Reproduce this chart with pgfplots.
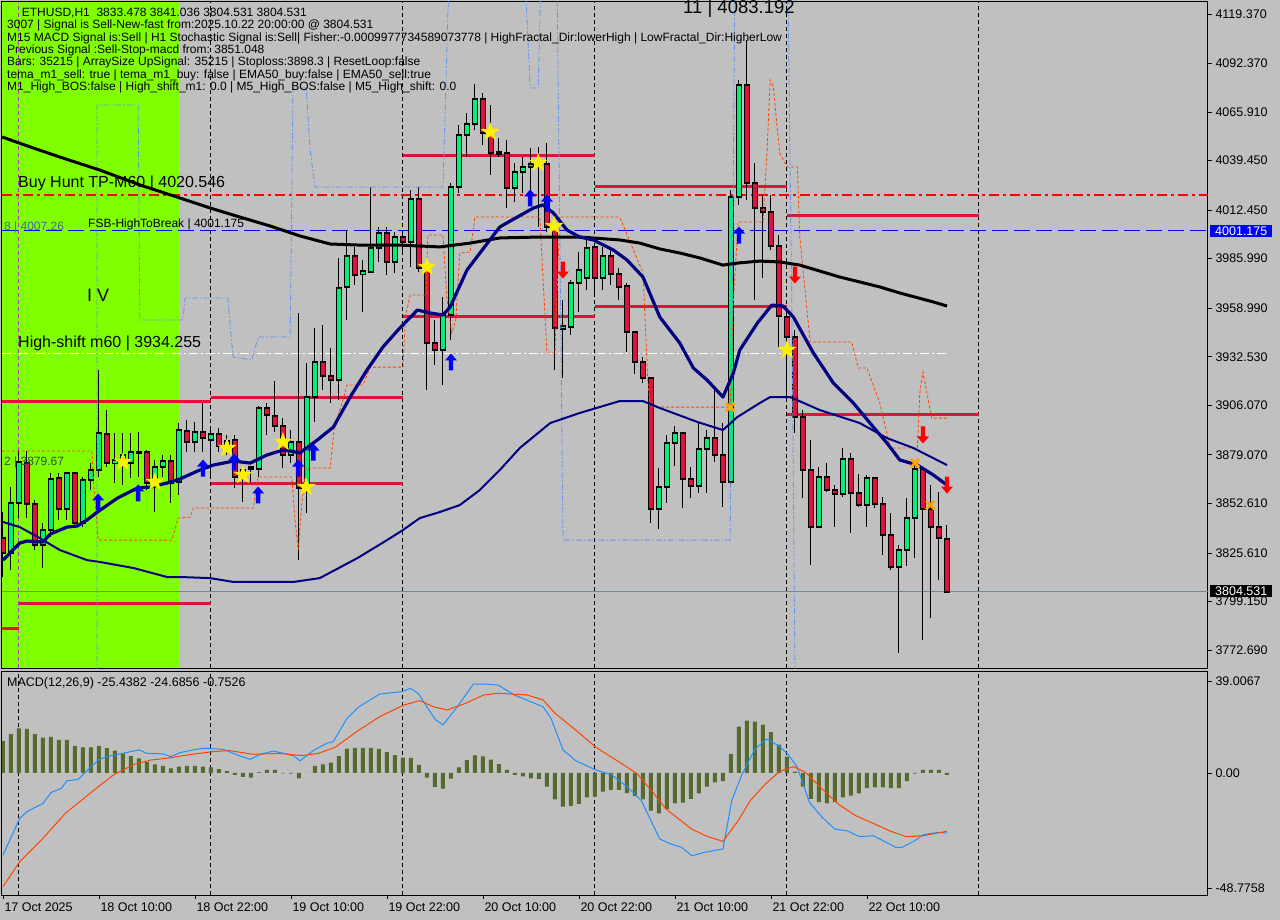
\documentclass[border=0pt]{standalone}
\usepackage{pgfplots}
\pgfplotsset{compat=1.18}
\usepackage{pgfplotstable}
\usepackage{fontspec}
\setmainfont{Liberation Sans}

\newcommand{\fs}[1]{\fontsize{#1pt}{#1pt}\selectfont}

\definecolor{chartbg}{RGB}{192,192,192}
\definecolor{zone}{RGB}{128,255,0}
\definecolor{bullc}{RGB}{0,240,120}
\definecolor{crim}{RGB}{220,20,60}
\definecolor{navyma}{RGB}{0,0,128}
\definecolor{histc}{RGB}{85,107,47}
\definecolor{macdc}{RGB}{30,144,255}
\definecolor{sigc}{RGB}{255,69,0}
\definecolor{envo}{RGB}{255,69,0}
\definecolor{envb}{RGB}{100,149,237}
\definecolor{sepc}{RGB}{170,60,190}
\definecolor{bidc}{RGB}{119,136,153}
\definecolor{starc}{RGB}{255,240,0}
\definecolor{xc}{RGB}{255,165,0}
\definecolor{tpred}{RGB}{255,0,0}

% arrow and star marks
\pgfdeclareplotmark{uparr}{%
  \pgfpathmoveto{\pgfqpoint{0pt}{8.5pt}}%
  \pgfpathlineto{\pgfqpoint{6pt}{1.5pt}}%
  \pgfpathlineto{\pgfqpoint{2.2pt}{1.5pt}}%
  \pgfpathlineto{\pgfqpoint{2.2pt}{-8.5pt}}%
  \pgfpathlineto{\pgfqpoint{-2.2pt}{-8.5pt}}%
  \pgfpathlineto{\pgfqpoint{-2.2pt}{1.5pt}}%
  \pgfpathlineto{\pgfqpoint{-6pt}{1.5pt}}%
  \pgfpathclose\pgfusepathqfill}
\pgfdeclareplotmark{dnarr}{%
  \pgfpathmoveto{\pgfqpoint{0pt}{-8.5pt}}%
  \pgfpathlineto{\pgfqpoint{6pt}{-1.5pt}}%
  \pgfpathlineto{\pgfqpoint{2.2pt}{-1.5pt}}%
  \pgfpathlineto{\pgfqpoint{2.2pt}{8.5pt}}%
  \pgfpathlineto{\pgfqpoint{-2.2pt}{8.5pt}}%
  \pgfpathlineto{\pgfqpoint{-2.2pt}{-1.5pt}}%
  \pgfpathlineto{\pgfqpoint{-6pt}{-1.5pt}}%
  \pgfpathclose\pgfusepathqfill}
\pgfdeclareplotmark{fstar}{%
  \pgfpathmoveto{\pgfpointpolar{90}{10pt}}%
  \pgfpathlineto{\pgfpointpolar{126}{4pt}}%
  \pgfpathlineto{\pgfpointpolar{162}{10pt}}%
  \pgfpathlineto{\pgfpointpolar{198}{4pt}}%
  \pgfpathlineto{\pgfpointpolar{234}{10pt}}%
  \pgfpathlineto{\pgfpointpolar{270}{4pt}}%
  \pgfpathlineto{\pgfpointpolar{306}{10pt}}%
  \pgfpathlineto{\pgfpointpolar{342}{4pt}}%
  \pgfpathlineto{\pgfpointpolar{18}{10pt}}%
  \pgfpathlineto{\pgfpointpolar{54}{4pt}}%
  \pgfpathclose\pgfusepathqfill}

% ETHUSD H1 candles, x = bar index (0 = 18 Oct 00:00)
\pgfplotstableread{
x o h l c
-1 3825.6 3861.5 3816.3 3852.8
0 3852.8 3881.2 3844.6 3875.2
3 3829.9 3841.9 3817.4 3838.1
4 3838.1 3869.2 3834.3 3865.9
6 3849.5 3869.7 3843.6 3869.2
8 3841.9 3867.0 3839.7 3865.3
9 3865.3 3874.6 3859.9 3870.8
10 3870.8 3925.3 3867.0 3891.0
12 3874.6 3891.0 3863.7 3876.3
13 3875.2 3891.0 3862.6 3879.0
14 3874.6 3891.0 3866.4 3880.6
15 3880.1 3891.5 3867.0 3880.6
17 3863.7 3876.3 3847.9 3872.4
18 3872.4 3879.0 3867.0 3875.7
20 3864.3 3896.4 3857.2 3892.6
22 3886.1 3897.0 3880.6 3891.5
24 3887.2 3892.6 3866.4 3890.4
26 3883.3 3889.9 3879.0 3886.6
30 3871.4 3905.7 3867.0 3904.6
34 3879.0 3892.6 3874.6 3886.1
36 3861.5 3929.1 3847.4 3910.6
37 3910.6 3948.2 3897.0 3929.7
40 3919.9 3986.4 3909.0 3970.0
41 3970.6 4001.6 3952.6 3987.5
43 3977.6 3985.3 3956.9 3979.3
44 3978.7 4025.1 3978.2 3991.8
45 3991.8 4003.3 3984.2 4000.0
47 3984.2 4000.5 3978.2 3997.8
49 3995.1 4023.4 3981.5 4018.5
53 3936.2 3965.1 3917.1 3955.3
54 3955.3 4027.2 3941.7 4025.1
55 4025.1 4058.9 4021.8 4053.4
56 4053.4 4065.4 4041.4 4059.4
57 4059.4 4081.2 4056.1 4073.0
62 4024.5 4038.2 4016.9 4033.2
63 4033.2 4041.4 4021.8 4036.0
64 4036.0 4046.3 4020.7 4037.6
65 4037.6 4046.9 4003.3 4038.2
68 3947.7 3963.5 3920.9 3949.3
69 3948.8 3974.4 3944.4 3972.7
70 3972.7 3989.6 3956.9 3979.8
71 3975.5 3996.2 3968.9 3991.8
73 3975.5 3992.4 3968.9 3987.5
80 3849.5 3871.9 3838.6 3861.5
81 3861.5 3889.9 3852.8 3885.5
82 3885.5 3894.8 3873.0 3891.0
85 3862.1 3896.4 3858.3 3882.3
86 3882.3 3892.6 3858.3 3888.2
89 3864.3 4023.4 3863.2 4019.6
90 4019.6 4083.2 4015.3 4080.7
100 3839.7 3872.4 3839.2 3867.0
103 3857.7 3882.8 3856.1 3876.8
106 3851.7 3868.1 3839.7 3866.4
110 3817.9 3829.9 3771.0 3827.2
111 3827.2 3855.5 3818.5 3844.6
112 3844.6 3873.5 3822.8 3871.4
}\bull

\pgfplotstableread{
x o h l c
-2 3833.7 3847.9 3812.5 3825.6
1 3874.6 3881.2 3844.6 3852.3
2 3852.3 3854.5 3827.2 3829.9
5 3866.4 3869.2 3843.6 3849.5
7 3869.2 3869.7 3839.7 3841.9
11 3890.4 3903.5 3872.4 3874.6
16 3880.6 3881.7 3859.9 3863.7
19 3875.7 3879.0 3852.8 3863.7
21 3892.1 3898.1 3880.6 3886.1
23 3891.5 3907.3 3880.6 3888.2
25 3890.4 3893.7 3880.6 3883.9
27 3887.2 3889.9 3861.0 3867.0
28 3870.8 3872.4 3853.4 3866.4
29 3872.4 3872.4 3864.3 3871.4
31 3904.6 3907.3 3889.9 3900.8
32 3900.2 3919.3 3891.5 3894.8
33 3894.8 3899.1 3871.9 3879.0
35 3886.1 3956.4 3821.7 3861.0
38 3929.7 3949.8 3914.4 3922.0
39 3922.0 3937.3 3907.3 3919.9
42 3987.5 3992.4 3971.6 3977.1
46 4000.0 4003.3 3977.1 3984.2
48 3997.8 4000.0 3989.1 3995.1
50 4018.5 4025.1 3978.7 3980.9
51 3980.9 3981.5 3914.4 3940.0
52 3940.0 3952.6 3928.0 3936.2
58 4073.0 4076.3 4048.0 4054.5
59 4054.5 4069.8 4031.6 4043.6
60 4044.1 4051.8 4041.4 4043.1
61 4043.6 4050.7 4013.6 4024.5
66 4037.6 4049.1 4000.5 4003.3
67 4003.3 4004.4 3925.3 3948.2
72 3992.4 3994.5 3967.3 3975.5
74 3987.5 3991.8 3971.6 3977.6
75 3977.6 3980.9 3963.5 3970.6
76 3971.1 3972.7 3935.1 3946.0
77 3946.0 3946.0 3923.1 3929.7
78 3929.7 3932.4 3918.2 3920.9
79 3920.9 3921.5 3841.9 3849.5
83 3891.0 3891.5 3850.1 3865.9
84 3865.9 3872.4 3855.5 3862.1
87 3888.2 3914.4 3875.2 3879.0
88 3879.0 3896.4 3850.6 3864.3
91 4080.7 4105.2 4018.0 4027.2
92 4027.2 4038.2 3963.5 4013.6
93 4013.6 4020.7 3975.5 4011.4
94 4011.4 4020.7 3990.7 3992.9
95 3992.9 3998.9 3937.3 3954.7
96 3954.2 3959.1 3909.0 3943.3
97 3943.3 3947.1 3891.0 3899.7
98 3899.7 3903.5 3855.5 3870.8
99 3870.8 3887.2 3819.0 3839.7
101 3867.0 3874.6 3858.8 3859.9
102 3859.9 3862.6 3839.7 3857.7
104 3876.8 3880.1 3836.5 3858.3
105 3858.3 3868.6 3850.6 3851.7
107 3866.4 3867.0 3850.1 3852.3
108 3852.3 3856.1 3824.5 3835.4
109 3835.4 3847.4 3816.3 3817.9
113 3871.4 3872.4 3778.1 3849.5
114 3849.5 3862.6 3790.1 3839.7
115 3839.7 3858.8 3810.8 3833.5
116 3833.478 3841.036 3804.531 3804.531
}\bear

% moving averages
\pgfplotstableread{
x y
-2.1 4052.3
1.4 4046.9
5.1 4041.4
10.1 4034.3
15.1 4026.2
20.1 4019.1
23.9 4013.6
27.6 4008.7
31.4 4003.8
35.1 3998.4
38.9 3994.0
42.6 3993.4
47.6 3993.4
52.6 3992.4
56.4 3994.5
60.1 3997.3
65.1 3997.8
70.1 3997.8
75.1 3996.2
77.6 3994.5
80.1 3991.3
82.6 3989.1
85.1 3986.4
88.0 3982.5
89.8 3983.6
92.6 3984.7
95.1 3984.2
97.6 3982.5
102.6 3976.0
107.6 3970.6
110.1 3967.3
114.3 3962.4
116.0 3960.2
}\slowma

\pgfplotstableread{
x y
-2.0 3821.7
0.1 3831.0
1.0 3832.1
3.0 3831.6
3.9 3835.9
6.0 3839.7
7.3 3840.3
8.5 3843.6
9.8 3847.9
12.3 3855.5
14.8 3861.0
16.4 3861.5
18.5 3863.7
20.1 3865.9
22.6 3870.8
24.3 3873.5
26.8 3875.7
28.9 3874.6
31.0 3879.0
33.0 3881.7
33.9 3881.2
35.1 3880.1
37.3 3887.2
39.3 3894.2
41.4 3910.6
43.5 3925.3
45.5 3937.9
47.6 3948.2
49.8 3958.0
51.4 3956.4
53.0 3955.3
53.9 3959.7
56.0 3979.8
60.1 4003.3
64.3 4013.6
65.5 4015.3
66.8 4010.9
68.5 4001.6
70.1 3997.8
71.8 3996.2
74.3 3990.7
76.0 3985.3
78.0 3976.0
80.1 3954.2
82.6 3940.0
84.3 3926.4
86.0 3919.9
88.0 3910.6
89.3 3923.7
90.1 3936.2
92.3 3950.9
94.1 3960.7
95.5 3960.2
96.8 3954.2
99.3 3934.6
101.8 3918.2
104.3 3907.3
106.8 3894.2
108.5 3885.5
110.1 3876.3
112.3 3873.5
114.3 3868.1
116.0 3862.6
}\fastma

\pgfplotstableread{
x y
-2.0 3842.5
0.1 3839.7
2.6 3833.7
5.1 3827.2
8.5 3821.7
10.1 3820.7
14.3 3817.4
18.5 3812.5
20.1 3812.5
23.9 3811.9
26.8 3809.8
34.3 3809.8
37.6 3811.9
42.3 3822.8
46.0 3832.6
48.0 3838.1
50.1 3844.6
52.6 3847.9
55.1 3851.7
57.6 3859.9
60.1 3870.8
62.6 3882.8
66.4 3896.4
70.1 3901.9
75.1 3908.4
78.0 3908.4
80.1 3904.6
84.8 3897.0
88.0 3892.6
89.8 3899.7
92.6 3907.3
93.9 3910.6
96.4 3910.6
100.1 3903.5
105.1 3896.4
108.5 3888.2
111.8 3882.8
116.0 3873.5
}\midma

% step envelopes
\pgfplotstableread{
x y
-2.125 3881.2
9.1 3881.2
9.4 3859.9
9.9 3832.6
19.1 3832.6
19.9 3844.6
21.4 3845.2
21.8 3850.1
29.3 3850.1
29.6 3859.9
29.9 3867.0
34.1 3867.0
34.5 3843.6
34.9 3827.2
35.4 3854.5
35.9 3871.9
38.9 3871.9
39.4 3893.7
40.5 3909.0
41.0 3917.1
43.0 3917.1
43.9 3926.9
48.0 3926.9
48.3 3954.2
48.9 3966.2
50.9 3966.2
51.1 3998.9
53.0 3998.9
53.5 3963.5
54.1 3945.5
54.6 3952.6
55.1 3989.1
56.4 3989.6
57.0 4008.7
65.1 4008.7
66.0 3934.6
67.0 3934.6
67.6 4008.7
75.1 4008.7
78.0 3978.2
78.6 3919.9
78.9 3905.1
88.9 3905.1
89.3 3963.5
89.9 4006.0
93.0 4006.0
93.5 4043.6
93.9 4083.4
94.3 4079.6
94.8 4056.1
95.1 4043.6
96.0 4036.0
97.3 4036.0
97.6 3997.8
98.9 3940.6
104.1 3940.6
104.9 3926.4
106.0 3926.4
107.6 3907.3
108.9 3882.8
112.3 3882.8
112.6 3912.8
113.0 3924.2
113.9 3903.5
114.1 3899.1
116.0 3899.1
}\envorange

\pgfplotstableread{
x y
9.75 3760
9.75 4069.8
14.9 4069.8
15.1 3952.6
20.5 3952.6
20.75 3964.6
26.1 3964.6
26.75 3932.4
29.1 3930.8
29.9 3943.3
33.9 3943.3
34.25 4079.0
35.9 4079.0
36.4 4045.2
37.0 4025.1
53.0 4025.1
53.75 4140
63.25 4140
63.9 4079.0
64.9 4079.0
65.25 4140
67.25 4140
67.6 4003.3
68.0 3832.6
88.9 3832.6
89.5 4140
96.1 4140
96.6 3963.5
97.0 3760
}\envblue

% MACD(12,26,9)
\pgfplotstableread{
x y
-2 13.6
-1 16.5
0 18.9
1 18.7
2 16.5
3 15.0
4 15.3
5 14.0
6 14.0
7 11.5
8 10.9
9 10.9
10 11.5
11 10.5
12 9.5
13 8.3
14 7.2
15 6.2
16 4.7
17 3.7
18 3.0
19 2.0
20 2.7
21 3.0
22 3.0
23 2.7
24 2.4
25 1.6
26 0.8
27 -0.8
28 -1.6
29 -2.0
30 0.3
31 1.3
32 1.3
33 -0.2
34 -0.3
35 -2.3
36 0.1
37 3.0
38 3.7
39 4.4
40 7.2
41 10.3
42 10.6
43 10.6
44 10.6
45 10.2
46 8.8
47 7.6
48 6.5
49 6.4
50 3.4
51 -2.0
52 -5.9
53 -6.6
54 -2.4
55 2.4
56 5.5
57 7.5
58 7.1
59 5.7
60 3.8
61 1.3
62 -0.8
63 -1.4
64 -2.3
65 -2.5
66 -5.8
67 -11.2
68 -14.3
69 -13.9
70 -13.1
71 -10.3
72 -10.0
73 -7.9
74 -7.2
75 -7.2
76 -8.5
77 -9.8
78 -11.2
79 -16.0
80 -17.1
81 -15.3
82 -12.9
83 -12.6
84 -11.0
85 -8.6
86 -5.8
87 -4.0
88 -3.5
89 8.1
90 19.7
91 22.2
92 21.8
93 20.5
94 17.3
95 12.0
96 6.9
97 0.6
98 -5.8
99 -11.0
100 -12.4
101 -12.9
102 -12.4
103 -10.3
104 -9.6
105 -8.6
106 -6.4
107 -6.1
108 -6.1
109 -6.4
110 -6.4
111 -3.5
112 -0.3
113 1.3
114 1.3
115 1.3
116 -0.75
}\hist

\pgfplotstableread{
x y
-2.0 -34.8
0.1 -19.2
1.0 -16.4
3.0 -12.9
4.0 -8.3
5.3 -6.5
6.0 -3.3
7.4 -2.7
9.9 5.5
10.9 6.9
12.9 8.3
15.0 9.8
16.0 8.3
18.0 8.1
19.0 6.9
20.1 8.6
22.1 10.0
23.1 10.5
25.6 10.0
27.3 7.6
28.9 5.8
30.3 8.1
31.8 9.3
33.4 8.1
34.4 7.2
35.1 5.1
36.9 9.8
38.5 12.6
39.3 13.3
41.0 23.2
42.5 28.1
45.1 33.5
47.9 34.5
48.9 35.9
49.9 33.8
52.0 22.8
53.0 20.4
54.8 28.1
56.8 37.7
58.4 37.7
59.9 37.3
61.9 33.1
65.5 28.1
66.5 23.2
68.0 9.8
69.6 5.2
72.1 1.3
74.1 -0.8
76.1 -6.1
77.8 -11.7
78.8 -18.8
80.1 -28.0
81.5 -30.1
82.8 -31.5
84.1 -35.1
85.6 -33.7
88.0 -32.2
89.1 -11.7
90.4 -0.4
92.0 10.2
93.5 14.4
94.9 11.6
96.1 8.1
97.3 2.4
98.8 -12.4
100.4 -18.8
102.0 -23.8
103.5 -24.5
105.1 -27.0
106.8 -26.6
108.0 -28.7
109.6 -31.5
110.4 -31.5
112.0 -28.7
113.0 -26.2
114.9 -25.2
116.0 -25.44
}\macdline

\pgfplotstableread{
x y
-2.0 -48.2
0.1 -37.6
2.8 -28.4
5.8 -17.1
9.4 -7.2
11.9 -0.6
14.5 3.8
16.5 5.5
19.0 6.5
21.6 7.9
24.1 9.0
26.3 9.5
29.3 7.9
32.4 8.3
35.4 7.4
37.4 8.3
39.5 10.9
42.5 18.2
45.1 23.9
48.1 28.8
50.1 30.7
51.8 28.1
53.5 26.7
55.8 29.5
58.1 33.1
59.9 33.8
63.5 33.1
65.5 31.0
67.0 25.3
69.6 18.2
72.1 10.9
75.1 4.5
77.3 -0.4
79.4 -8.9
80.9 -15.3
84.1 -23.8
86.1 -27.0
88.0 -29.0
89.9 -20.2
91.4 -11.7
93.3 -4.7
95.1 0.7
96.8 2.7
98.3 0.3
100.4 -6.8
102.5 -13.4
104.6 -18.1
106.8 -21.4
108.8 -24.5
110.9 -27.0
113.0 -26.6
116.0 -24.69
}\signalline

\pgfplotsset{
  candle/.style 2 args={draw=none, mark=none, forget plot,
    error bars/.cd, y dir=both, y explicit, error mark=none,
    error bar style={draw=#1, line width=#2, line cap=butt}},
}

\begin{document}
\begin{tikzpicture}
\path[use as bounding box, fill=chartbg] (0,0) rectangle (1280pt,-920pt);

\begin{axis}[
  at={(2pt,-2pt)}, anchor=north west, scale only axis,
  width=1206pt, height=666pt,
  xmin=-2.125, xmax=148.625, ymin=3762.9, ymax=4125.9,
  axis line style={black, line width=1pt},
  xtick=\empty,
  ytick={4119.370,4092.370,4065.910,4039.450,4012.450,3985.990,3958.990,3932.530,3906.070,3879.070,3852.610,3825.610,3799.150,3772.690},
  yticklabels={4119.370,4092.370,4065.910,4039.450,4012.450,3985.990,3958.990,3932.530,3906.070,3879.070,3852.610,3825.610,3799.150,3772.690},
  ytick pos=right, yticklabel pos=right,
  tick align=outside, major tick length=4pt,
  tick style={black, line width=0.8pt},
  yticklabel style={font=\fs{12.5}},
]
% signal zone
\addplot[fill=zone, draw=none, forget plot] coordinates {(-2.125,3762.9) (20,3762.9) (20,4125.9) (-2.125,4125.9)} -- cycle;
% day separators
\addplot[sepc, line width=1pt, dash pattern=on 4pt off 3pt] coordinates {(0,3762.9) (0,4125.9)};
\foreach \d in {24,48,72,96,120} {
  \edef\tmp{\noexpand\addplot[black, line width=1pt, dash pattern=on 4pt off 3pt] coordinates {(\d,3762.9) (\d,4125.9)};}\tmp
}
% level lines
\addplot[bidc, line width=1pt] coordinates {(-2.125,3804.531) (148.625,3804.531)};
\addplot[tpred, line width=1.6pt, dash pattern=on 10pt off 4pt on 3pt off 4pt] coordinates {(-2.125,4020.546) (148.625,4020.546)};
\addplot[blue, line width=1pt, dash pattern=on 16pt off 6pt] coordinates {(-2.125,4001.175) (148.625,4001.175)};
\addplot[white, line width=1pt, dash pattern=on 9pt off 3pt on 2pt off 3pt] coordinates {(-2.125,3934.255) (116,3934.255)};
% structure lines
\addplot[crim, line width=3pt] coordinates {(-2.125,3908.4) (24,3908.4)};
\addplot[crim, line width=3pt] coordinates {(24,3910.6) (48,3910.6)};
\addplot[crim, line width=3pt] coordinates {(0,3797.8) (24,3797.8)};
\addplot[crim, line width=3pt] coordinates {(-2.125,3784.7) (0,3784.7)};
\addplot[crim, line width=3pt] coordinates {(24,3863.2) (48,3863.2)};
\addplot[crim, line width=3pt] coordinates {(48,3954.7) (72,3954.7)};
\addplot[crim, line width=3pt] coordinates {(48,4042.5) (72,4042.5)};
\addplot[crim, line width=3pt] coordinates {(72,4025.6) (96,4025.6)};
\addplot[crim, line width=3pt] coordinates {(72,3960.2) (96,3960.2)};
\addplot[crim, line width=3pt] coordinates {(96,4009.3) (120,4009.3)};
\addplot[crim, line width=3pt] coordinates {(96,3900.8) (120,3900.8)};

% candles: wicks
\addplot[candle={black}{1pt}]
  table[x=x, y expr={(\thisrow{h}+\thisrow{l})/2}, y error expr={(\thisrow{h}-\thisrow{l})/2}] {\bull};
\addplot[candle={black}{1pt}]
  table[x=x, y expr={(\thisrow{h}+\thisrow{l})/2}, y error expr={(\thisrow{h}-\thisrow{l})/2}] {\bear};
% candles: bodies
\addplot[candle={black}{6pt}]
  table[x=x, y expr={(\thisrow{o}+\thisrow{c})/2}, y error expr={abs(\thisrow{o}-\thisrow{c})/2+0.55}] {\bull};
\addplot[candle={bullc}{4pt}]
  table[x=x, y expr={(\thisrow{o}+\thisrow{c})/2}, y error expr={max(abs(\thisrow{o}-\thisrow{c})/2-0.55,0)}] {\bull};
\addplot[candle={black}{6pt}]
  table[x=x, y expr={(\thisrow{o}+\thisrow{c})/2}, y error expr={abs(\thisrow{o}-\thisrow{c})/2+0.55}] {\bear};
\addplot[candle={crim}{4pt}]
  table[x=x, y expr={(\thisrow{o}+\thisrow{c})/2}, y error expr={max(abs(\thisrow{o}-\thisrow{c})/2-0.55,0)}] {\bear};

% envelopes and averages
\addplot[envo, line width=0.8pt, dash pattern=on 3pt off 2pt] table {\envorange};
\addplot[envb, line width=0.8pt, dash pattern=on 6pt off 2pt on 1.5pt off 2pt] table {\envblue};
\addplot[black, line width=3pt, line join=round] table {\slowma};
\addplot[navyma, line width=2pt, line join=round] table {\midma};
\addplot[navyma, line width=3.2pt, line join=round] table {\fastma};

% signal marks
\addplot[only marks, mark=fstar, color=starc] coordinates {
 (13.0,3875.2) (17.0,3864.3) (26.0,3882.8) (28.0,3868.1) (33.0,3886.1) (35.9,3861.5)
 (51.0,3981.5) (58.9,4055.0) (64.9,4038.2) (66.9,4003.8) (96.0,3936.2)};
\addplot[only marks, mark=uparr, color=blue] coordinates {
 (9.9,3853.4) (14.9,3858.3) (23.0,3871.9) (26.9,3875.2) (29.9,3857.2) (34.9,3871.9)
 (36.8,3880.6) (54.0,3929.7) (63.9,4019.1) (66.0,4016.3) (90.0,3998.9)};
\addplot[only marks, mark=dnarr, color=red] coordinates {
 (68.0,3979.8) (97.0,3977.1) (113.0,3889.9) (116.0,3862.6)};
\addplot[only marks, mark=x, mark size=6pt, color=xc, mark options={line width=2.8pt}] coordinates {
 (88.9,3905.1) (112.0,3874.6) (113.9,3851.7)};
\end{axis}

\begin{axis}[
  at={(2pt,-671pt)}, anchor=north west, scale only axis,
  width=1206pt, height=224pt,
  xmin=-2.125, xmax=148.625, ymin=-51.74, ymax=43.25,
  axis line style={black, line width=1pt},
  xtick={-2,10,22,34,46,58,70,82,94,106},
  xticklabels={17 Oct 2025,18 Oct 10:00,18 Oct 22:00,19 Oct 10:00,19 Oct 22:00,20 Oct 10:00,20 Oct 22:00,21 Oct 10:00,21 Oct 22:00,22 Oct 10:00},
  xtick pos=bottom,
  xticklabel style={anchor=north west, font=\fs{12.5}, xshift=-2pt},
  ytick={39.0067,0,-48.7758},
  yticklabels={39.0067,0.00,-48.7758},
  ytick pos=right, yticklabel pos=right,
  yticklabel style={font=\fs{12.5}},
  tick align=outside, major tick length=4pt,
  tick style={black, line width=0.8pt},
]
\foreach \d in {0,24,48,72,96,120} {
  \edef\tmp{\noexpand\addplot[black, line width=1pt, dash pattern=on 4pt off 3pt] coordinates {(\d,-51.74) (\d,43.25)};}\tmp
}
\addplot[ybar, bar width=4pt, fill=histc, draw=none] table {\hist};
\addplot[macdc, line width=1pt] table {\macdline};
\addplot[sigc, line width=1pt] table {\signalline};
\end{axis}

% chart texts
\begin{scope}[every node/.style={anchor=base west, inner sep=0pt}]
\node[font=\fs{12}] at (21.7pt,-16.5pt) {ETHUSD,H1\ \ 3833.478 3841.036 3804.531 3804.531};
\node[font=\fs{12}] at (7pt,-29pt) {3007 | Signal is Sell-New-fast from:2025.10.22 20:00:00 @ 3804.531};
\node[font=\fs{12}] at (7pt,-41.3pt) {M15 MACD Signal is:Sell | H1 Stochastic Signal is:Sell| Fisher:-0.0009977734589073778 | HighFractal\_Dir:lowerHigh | LowFractal\_Dir:HigherLow};
\node[font=\fs{12}] at (7pt,-53.6pt) {Previous Signal :Sell-Stop-macd from: 3851.048};
\node[font=\fs{12}] at (7pt,-66pt) {Bars: 35215 | ArraySize UpSignal: 35215 | Stoploss:3898.3 | ResetLoop:false};
\node[font=\fs{12}] at (7pt,-78.3pt) {tema\_m1\_sell: true | tema\_m1\_buy: false | EMA50\_buy:false | EMA50\_sell:true};
\node[font=\fs{12}] at (7pt,-90.6pt) {M1\_High\_BOS:false | High\_shift\_m1: 0.0 | M5\_High\_BOS:false | M5\_High\_shift: 0.0};
\node[font=\fs{16}] at (18pt,-188pt) {Buy Hunt TP-M60 | 4020.546};
\node[font=\fs{16}] at (18pt,-347pt) {High-shift m60 | 3934.255};
\node[font=\fs{18}] at (87pt,-301.5pt) {I V};
\node[font=\fs{12}] at (88pt,-227.5pt) {FSB-HighToBreak | 4001.175};
\node[font=\fs{12}, text={rgb,255:red,70;green,100;blue,170}] at (4pt,-230.5pt) {8 | 4007.26};
\node[font=\fs{12}, text={rgb,255:red,47;green,79;blue,79}] at (4pt,-465pt) {2 | 3879.67};
\node[font=\fs{18.5}] at (683pt,-13.3pt) {11 | 4083.192};
\node[font=\fs{12.5}] at (7pt,-686.5pt) {MACD(12,26,9) -25.4382 -24.6856 -0.7526};
\end{scope}
\node[anchor=west, fill=blue, text=white, font=\fs{12.5}, inner xsep=5pt, inner ysep=1.5pt] at (1210pt,-231pt) {4001.175};
\node[anchor=west, fill=black, text=white, font=\fs{12.5}, inner xsep=5pt, inner ysep=1.5pt] at (1210pt,-591pt) {3804.531};
\end{tikzpicture}
\end{document}
